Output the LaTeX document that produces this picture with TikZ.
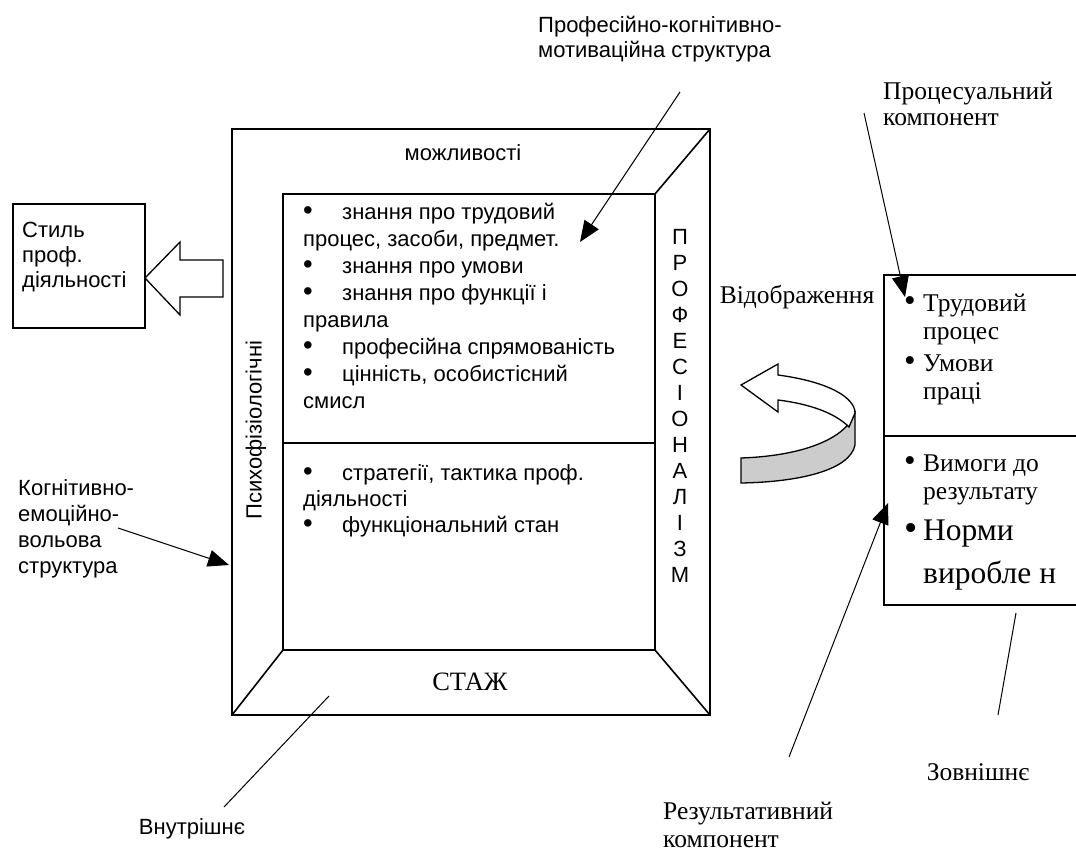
\documentclass[tikz,border=0pt]{standalone}
\usepackage{fontspec}
\setmainfont{Liberation Sans}
\newfontfamily\tnr{Liberation Serif}
\usepackage{tikz}
\usetikzlibrary{arrows.meta,positioning,calc}
\newcommand{\sbul}{\makebox[39pt][l]{\scalebox{1.25}{\textbullet}}}
\newcommand{\rbul}{\makebox[19pt][l]{\scalebox{1.3}{\textbullet}}}

\begin{document}
\begin{tikzpicture}[x=1pt,y=-1pt,
  frame/.style={draw,line width=1.6pt,inner sep=0pt,outer sep=0pt},
  sans/.style={font=\fontsize{22}{27}\selectfont,align=left,inner sep=0pt},
  serif/.style={font=\tnr\fontsize{25.5}{28}\selectfont,align=left,inner sep=0pt},
  callout/.style={line width=1pt,-{Triangle[length=21pt,width=17pt]}},
  pointer/.style={line width=1pt}]
\useasboundingbox (0,0) rectangle (1076,856);

\node[frame,minimum width=478pt,minimum height=586pt] (outer) at (471,422) {};
\node[frame,minimum width=372pt,minimum height=456pt] (inner) at (469,422) {};
\coordinate (split) at (0,443);
\draw[line width=1.6pt] (inner.west |- split) -- (inner.east |- split);
\draw[line width=1.6pt] (inner.north east) -- (outer.north east)
  (inner.south west) -- (outer.south west)
  (inner.south east) -- (outer.south east);

\node[sans] (abil) at (463,153) {можливості};
\node[serif,font=\tnr\fontsize{26.5}{28}\selectfont] (stazh) at (470,682) {СТАЖ};
\node[sans,rotate=90] (psych) at (256,430) {Психофізіологічні};
\node[sans,align=center,font=\fontsize{22}{26}\selectfont] (prof) at (680,406)
  {П\\Р\\О\\Ф\\Е\\С\\І\\О\\Н\\А\\Л\\І\\З\\М};

\node[sans,anchor=north west] (know) at (303,203)
  {\sbul знання про трудовий\\
   процес, засоби, предмет.\\
   \sbul знання про умови\\
   \sbul знання про функції і\\
   правила\\
   \sbul професійна спрямованість\\
   \sbul цінність, особистісний\\
   смисл};
\node[sans,anchor=north west,font=\fontsize{22}{26}\selectfont] (tact) at (303,464)
  {\sbul стратегії, тактика проф.\\
   діяльності\\
   \sbul функціональний стан};

\node[frame,minimum width=132pt,minimum height=124pt] (style) at (79,266) {};
\node[sans,anchor=north west,font=\fontsize{22}{25}\selectfont] (styletxt) at (22,222)
  {Стиль\\проф.\\діяльності};
\draw[line width=1.3pt] (145,278) -- (180,242) -- (180,260) -- (223,260)
  -- (223,297) -- (180,297) -- (180,315) -- cycle;

\node[frame,minimum width=206pt,minimum height=330pt] (ext) at (987,440) {};
\coordinate (extsplit) at (0,436);
\draw[line width=1.6pt] (ext.west |- extsplit) -- (ext.east |- extsplit);
\node[serif,anchor=north west] (proc) at (904,294)
  {\rbul Трудовий\\
   \hspace*{19pt}процес\\[4pt]
   \rbul Умови\\
   \hspace*{19pt}праці};
\node[serif,anchor=north west] (req) at (904,455)
  {\rbul Вимоги до\\
   \hspace*{19pt}результату\\[13pt]
   {\fontsize{31.5}{38}\selectfont\makebox[19pt][l]{\scalebox{1.2}{\textbullet}}Норми}\\[12pt]
   \hspace*{19pt}{\fontsize{31.5}{38}\selectfont виробле н}};

\node[serif] (refl) at (797,297) {Відображення};
\fill[gray!40] (741,458) .. controls (800,456) and (845,440) .. (855,413)
  -- (855,445) .. controls (850,470) and (800,482) .. (741,483) -- cycle;
\draw[line width=1.3pt] (741,458) .. controls (800,456) and (845,440) .. (855,413)
  -- (855,445) .. controls (850,470) and (800,482) .. (741,483) -- cycle;
\draw[line width=1.3pt,fill=white] (741,385) -- (778,364) -- (778,375)
  .. controls (830,382) and (855,398) .. (855,413) -- (849,427)
  .. controls (835,413) and (810,404) .. (778,400) -- (778,412) -- cycle;

\node[sans,anchor=north west,font=\fontsize{22}{25}\selectfont] (pkm) at (538,16)
  {Професійно-когнітивно-\\мотиваційна структура};
\node[sans,anchor=north west,font=\fontsize{22}{26}\selectfont] (kev) at (18,479)
  {Когнітивно-\\емоційно-\\вольова\\структура};
\node[sans] (inside) at (192,829) {Внутрішнє};
\node[serif,anchor=north west,font=\tnr\fontsize{25.5}{26}\selectfont] (procc) at (883,82)
  {Процесуальний\\компонент};
\node[serif,anchor=north west,font=\tnr\fontsize{25.5}{28}\selectfont] (resc) at (663,802)
  {Результативний\\компонент};
\node[serif] (outside) at (978,772) {Зовнішнє};

\coordinate (pkmS) at (680,92);   \coordinate (pkmE) at (580,242);
\coordinate (kevS) at (118,528);  \coordinate (kevE) at (229,565);
\coordinate (proS) at (864,113);  \coordinate (proE) at (905,297);
\coordinate (resS) at (789,757);  \coordinate (resE) at (888,503);
\coordinate (outS) at (998,715);  \coordinate (outE) at (1016,613);
\coordinate (inS) at (224,807);   \coordinate (inE) at (329,696);
\draw[callout] (pkmS) -- (pkmE);
\draw[callout] (kevS) -- (kevE);
\draw[callout] (proS) -- (proE);
\draw[callout] (resS) -- (resE);
\draw[pointer] (outS) -- (outE);
\draw[pointer] (inS) -- (inE);
\end{tikzpicture}
\end{document}
